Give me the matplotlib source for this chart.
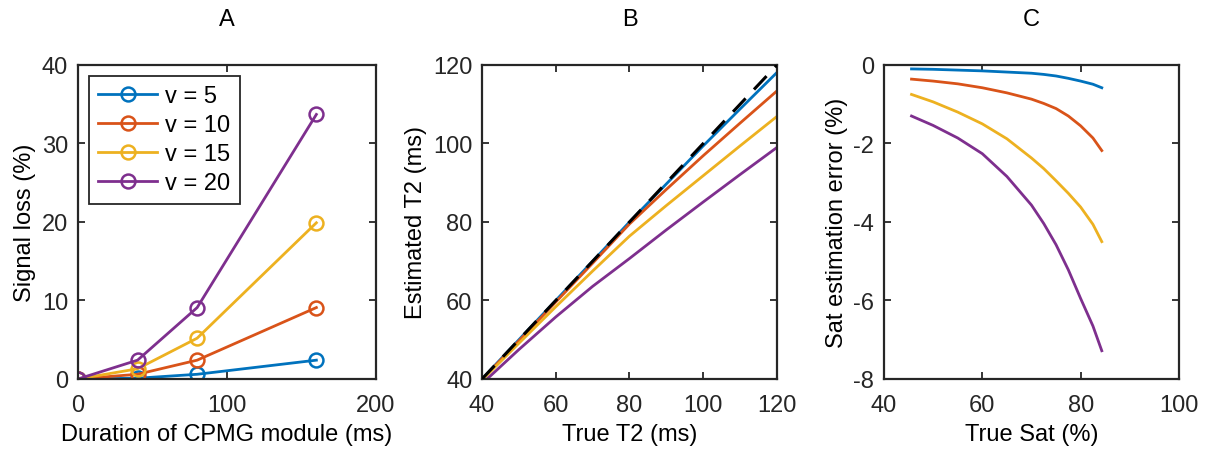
import numpy as np
import matplotlib.pyplot as plt

plt.rcParams['font.family'] = ['Liberation Sans', 'DejaVu Sans']
plt.rcParams['axes.unicode_minus'] = False

# colours (MATLAB default order)
colors = ['#0072BD', '#D95319', '#EDB120', '#7E2F8E']
v_labels = ['v = 5', 'v = 10', 'v = 15', 'v = 20']

# Panel A: signal loss vs CPMG duration
durA = [0, 40, 80, 160]
lossA = [
    [0, 0.1, 0.6, 2.4],
    [0, 0.6, 2.4, 9.1],
    [0, 1.3, 5.2, 19.9],
    [0, 2.4, 9.1, 33.7],
]

# Panel B: estimated vs true T2
trueT2 = [40, 50, 60, 70, 80, 90, 100, 110, 120]
estT2 = [
    [40.0, 50.0, 60.0, 70.0, 80.0, 89.7, 99.4, 108.8, 118.1],
    [39.9, 49.7, 59.6, 69.5, 79.5, 88.3, 96.9, 105.2, 113.4],
    [39.7, 49.1, 58.4, 67.5, 76.4, 84.2, 91.8, 99.4, 106.9],
    [38.8, 47.5, 55.8, 63.6, 70.7, 78.0, 85.1, 92.1, 99.0],
]
identity = [40, 120]

# Panel C: Sat estimation error vs true Sat
trueSat = [45.6, 50, 55, 60, 65, 70, 72.5, 75, 77.5, 80, 82.5, 84.3]
satErr = [
    [-0.10, -0.11, -0.13, -0.15, -0.18, -0.21, -0.24, -0.28, -0.34, -0.41, -0.49, -0.58],
    [-0.36, -0.41, -0.48, -0.58, -0.71, -0.87, -0.98, -1.11, -1.30, -1.55, -1.86, -2.18],
    [-0.75, -0.94, -1.20, -1.50, -1.88, -2.37, -2.64, -2.95, -3.27, -3.62, -4.06, -4.50],
    [-1.30, -1.54, -1.86, -2.26, -2.84, -3.57, -4.04, -4.58, -5.22, -5.95, -6.65, -7.28],
]

fig = plt.figure(figsize=(12.05, 4.52), dpi=100)
axA = fig.add_axes([0.0647, 0.1593, 0.2473, 0.6947])
axB = fig.add_axes([0.400, 0.1593, 0.2448, 0.6947])
axC = fig.add_axes([0.7336, 0.1593, 0.2448, 0.6947])

fs = 17
for ax in (axA, axB, axC):
    for s in ax.spines.values():
        s.set_linewidth(1.6)
        s.set_color('#262626')
    ax.tick_params(direction='in', top=True, right=True, labelsize=fs,
                   width=1.3, length=5, colors='#262626',
                   labelcolor='#262626')
    ax.tick_params(axis='x', pad=11)
    ax.tick_params(axis='y', pad=7)

# A
for i in range(4):
    axA.plot(durA, lossA[i], '-o', color=colors[i], lw=2, ms=10,
             mfc='none', mew=1.8, label=v_labels[i])
axA.set_xlim(0, 200)
axA.set_ylim(0, 40)
axA.set_xticks([0, 100, 200])
axA.set_yticks([0, 10, 20, 30, 40])
axA.set_xlabel('Duration of CPMG module (ms)', fontsize=fs, labelpad=5)
axA.set_ylabel('Signal loss (%)', fontsize=fs, labelpad=4)
axA.set_title('A', fontsize=fs, pad=29)
leg = axA.legend(loc='upper left', fontsize=fs, fancybox=False, framealpha=1,
                 edgecolor='#262626', handlelength=2.5, borderaxespad=0.45,
                 labelspacing=0.3, borderpad=0.4, handletextpad=0.35)
leg.get_frame().set_linewidth(1.3)

# B
for i in range(4):
    axB.plot(trueT2, estT2[i], '-', color=colors[i], lw=2)
axB.plot(identity, identity, '--', color='black', lw=2.2, dashes=(6, 4),
         zorder=3)
axB.set_xlim(40, 120)
axB.set_ylim(40, 120)
axB.set_xticks([40, 60, 80, 100, 120])
axB.set_yticks([40, 60, 80, 100, 120])
axB.set_xlabel('True T2 (ms)', fontsize=fs, labelpad=5)
axB.set_ylabel('Estimated T2 (ms)', fontsize=fs, labelpad=4)
axB.set_title('B', fontsize=fs, pad=29)

# C
for i in range(4):
    axC.plot(trueSat, satErr[i], '-', color=colors[i], lw=2)
axC.set_xlim(40, 100)
axC.set_ylim(-8, 0)
axC.set_xticks([40, 60, 80, 100])
axC.set_yticks([-8, -6, -4, -2, 0])
axC.set_xlabel('True Sat (%)', fontsize=fs, labelpad=5)
axC.set_ylabel('Sat estimation error (%)', fontsize=fs, labelpad=4)
axC.set_title('C', fontsize=fs, pad=29)

fig.savefig('out.png', dpi=100)
